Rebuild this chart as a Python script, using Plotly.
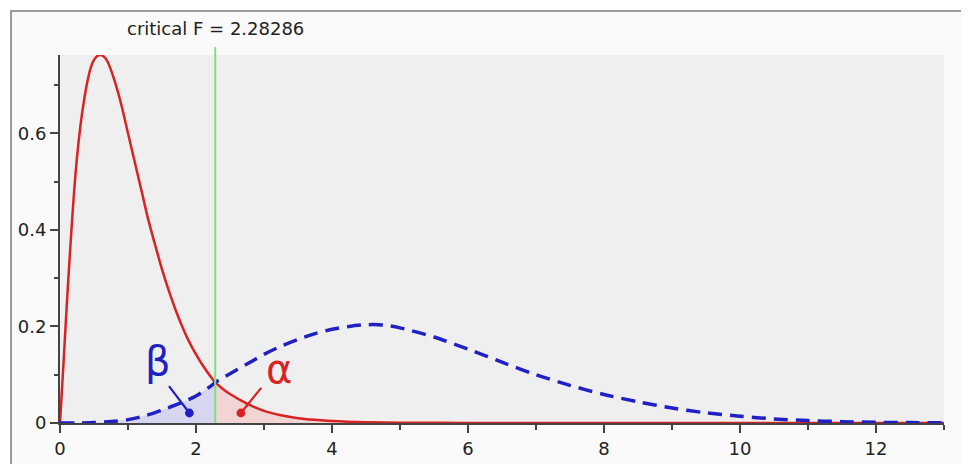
import plotly.graph_objects as go

# ---------------- data ----------------
critical_f = 2.28286

red_x = [0, 0.05, 0.1, 0.15, 0.2, 0.25, 0.3, 0.35, 0.4, 0.45, 0.5, 0.55, 0.6, 0.65,
         0.7, 0.8, 0.9, 1.0, 1.1, 1.2, 1.3, 1.4, 1.5, 1.6, 1.7, 1.8, 1.9, 2.0, 2.1,
         2.2, 2.28286, 2.4, 2.5, 2.75, 3.0, 3.25, 3.5, 3.75, 4.0, 4.5, 5.0, 6.0,
         7.0, 8.0, 9.0, 10.0, 11.0, 12.0, 13.0]
red_y = [0, 0.12, 0.245, 0.36, 0.465, 0.55, 0.615, 0.665, 0.705, 0.735, 0.752, 0.76,
         0.762, 0.758, 0.748, 0.71, 0.66, 0.60, 0.54, 0.48, 0.42, 0.368, 0.318, 0.274,
         0.234, 0.199, 0.168, 0.142, 0.119, 0.099, 0.084, 0.070, 0.060, 0.040, 0.025,
         0.016, 0.010, 0.0065, 0.004, 0.0015, 0.0006, 0.0001, 0, 0, 0, 0, 0, 0, 0]

blue_x = [0, 0.25, 0.5, 0.75, 1.0, 1.25, 1.5, 1.75, 2.0, 2.25, 2.28286, 2.5, 2.75,
          3.0, 3.25, 3.5, 3.75, 4.0, 4.25, 4.5, 4.75, 5.0, 5.5, 6.0, 6.5, 7.0, 7.5,
          8.0, 8.5, 9.0, 9.5, 10.0, 10.5, 11.0, 11.5, 12.0, 12.5, 13.0]
blue_y = [0, 0.0001, 0.0008, 0.003, 0.007, 0.015, 0.027, 0.040, 0.056, 0.080, 0.084,
          0.102, 0.122, 0.142, 0.159, 0.173, 0.185, 0.194, 0.200, 0.2035, 0.203,
          0.197, 0.178, 0.153, 0.126, 0.100, 0.078, 0.059, 0.044, 0.031, 0.021,
          0.014, 0.0085, 0.005, 0.0028, 0.0015, 0.0008, 0.0004]

x_ticks = [0, 2, 4, 6, 8, 10, 12]
x_tick_labels = ["0", "2", "4", "6", "8", "10", "12"]
y_ticks = [0, 0.2, 0.4, 0.6]
y_tick_labels = ["0", "0.2", "0.4", "0.6"]

title_text = "critical F = 2.28286"
beta_text = "β"
alpha_text = "α"

# ---------------- styling ----------------
RED = "#d92323"
BLUE = "#2020c4"
GREEN = "#7fe07f"
FONT = "DejaVu Sans"
X_MAX = 13
Y_MAX = 0.762

beta_x = [x for x in blue_x if x <= critical_f]
beta_y = [y for x, y in zip(blue_x, blue_y) if x <= critical_f]
alpha_x = [x for x in red_x if x >= critical_f]
alpha_y = [y for x, y in zip(red_x, red_y) if x >= critical_f]

fig = go.Figure()

fig.add_trace(go.Scatter(x=beta_x, y=beta_y, mode="lines", fill="tozeroy",
                         line=dict(width=0, shape="spline", smoothing=0.8),
                         fillcolor="rgba(90,90,255,0.16)", hoverinfo="skip",
                         showlegend=False))
fig.add_trace(go.Scatter(x=alpha_x, y=alpha_y, mode="lines", fill="tozeroy",
                         line=dict(width=0, shape="spline", smoothing=0.8),
                         fillcolor="rgba(255,90,90,0.18)", hoverinfo="skip",
                         showlegend=False))
fig.add_trace(go.Scatter(x=red_x, y=red_y, mode="lines",
                         line=dict(color=RED, width=2.5, shape="spline", smoothing=0.8),
                         showlegend=False))
fig.add_trace(go.Scatter(x=blue_x, y=blue_y, mode="lines",
                         line=dict(color=BLUE, width=3.5, dash="14px,8px",
                                   shape="spline", smoothing=0.8),
                         showlegend=False))

shapes = [
    # outer frame
    dict(type="rect", xref="paper", yref="paper", x0=-0.0554, x1=1.06, y0=-0.3, y1=1.1195,
         fillcolor="#fafafa", line=dict(color="#7a7a7a", width=1.5), layer="below"),
    # plot area background
    dict(type="rect", xref="x", yref="y", x0=0, x1=X_MAX, y0=0, y1=Y_MAX,
         fillcolor="#efefef", line=dict(width=0), layer="below"),
    # critical F line
    dict(type="line", xref="x", yref="paper", x0=critical_f, x1=critical_f, y0=0, y1=1.022,
         line=dict(color=GREEN, width=2)),
]

annotations = [
    dict(x=critical_f, y=1.073, xref="x", yref="paper", text=title_text, showarrow=False,
         xanchor="center", yanchor="middle", font=dict(family=FONT, size=18, color="#222")),
    dict(x=1.44, y=0.128, xref="x", yref="y", text=beta_text, showarrow=False,
         font=dict(family=FONT, size=40, color=BLUE)),
    dict(x=3.22, y=0.112, xref="x", yref="y", text=alpha_text, showarrow=False,
         font=dict(family=FONT, size=40, color=RED)),
    dict(x=1.903, y=0.0207, ax=1.586, ay=0.0793, xref="x", yref="y", axref="x", ayref="y",
         text="", showarrow=True, arrowhead=6, arrowsize=1.0, arrowwidth=2.2,
         arrowcolor=BLUE, standoff=0),
    dict(x=2.66, y=0.0207, ax=2.977, ay=0.0758, xref="x", yref="y", axref="x", ayref="y",
         text="", showarrow=True, arrowhead=6, arrowsize=1.0, arrowwidth=2.2,
         arrowcolor=RED, standoff=0),
]

# page body adds an 8px offset; figure is sized so the plot lands where it does in the reference
fig.update_layout(
    width=961, height=456,
    margin=dict(l=52, r=25, t=47, b=41),
    paper_bgcolor="white",
    plot_bgcolor="rgba(0,0,0,0)",
    shapes=shapes,
    annotations=annotations,
    showlegend=False,
    font=dict(family=FONT, size=18, color="#222"),
)
fig.update_xaxes(range=[0, X_MAX], tickvals=x_ticks, ticktext=x_tick_labels,
                 automargin=False,
                 showgrid=False, zeroline=False, showline=True, linecolor="#444",
                 linewidth=2, ticks="outside", ticklen=8, tickwidth=1.5, tickcolor="#444",
                 minor=dict(ticks="outside", ticklen=5, tickwidth=1.5, tickcolor="#444",
                            dtick=1, tick0=0, showgrid=False),
                 tickfont=dict(family=FONT, size=18, color="#222"))
fig.update_yaxes(range=[0, Y_MAX], tickvals=y_ticks, ticktext=y_tick_labels,
                 automargin=False,
                 showgrid=False, zeroline=False, showline=True, linecolor="#444",
                 linewidth=2, ticks="outside", ticklen=8, tickwidth=1.5, tickcolor="#444",
                 minor=dict(ticks="outside", ticklen=4, tickwidth=1.5, tickcolor="#444",
                            dtick=0.1, tick0=0, showgrid=False),
                 tickfont=dict(family=FONT, size=18, color="#222"))

fig.write_html("out.html")
